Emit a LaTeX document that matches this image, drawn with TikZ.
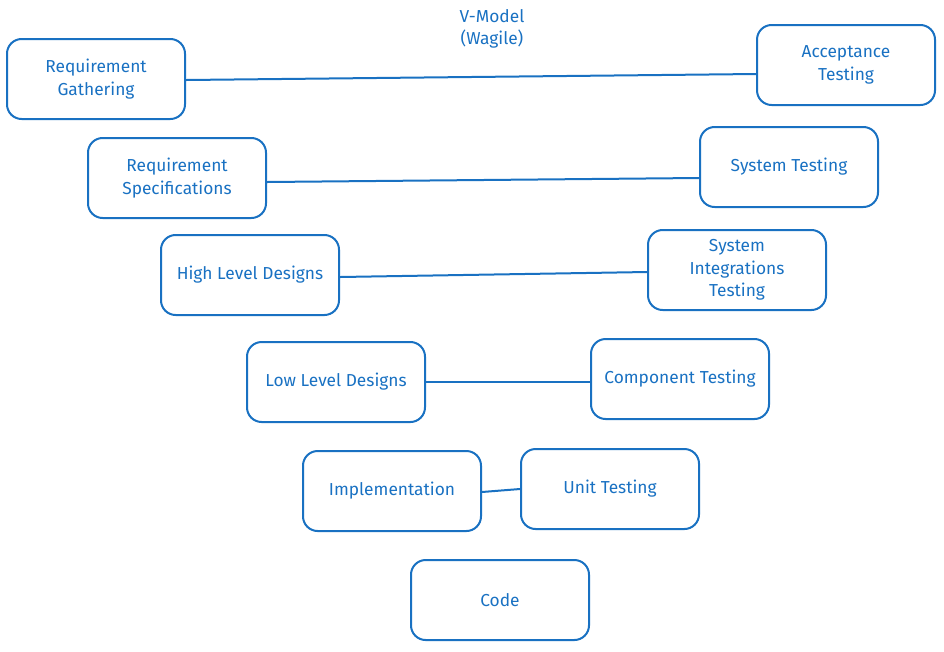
\documentclass[tikz,border=0pt]{standalone}
\usepackage{fontspec}
\setmainfont{Fira Sans}
\definecolor{exblue}{HTML}{1971C2}
\begin{document}
\begin{tikzpicture}[x=0.75pt,y=-0.75pt,
  box/.style={draw=exblue, line width=1.5pt, rounded corners=11pt, minimum width=133.5pt, minimum height=60pt, align=center, text=exblue, font=\fontsize{13}{16.8}\selectfont, inner sep=2pt},
  link/.style={draw=exblue, line width=1.5pt},
  ttl/.style={text=exblue, align=center, font=\fontsize{13}{16}\selectfont}]
\useasboundingbox (0,0) rectangle (944,651);
\node[ttl] (title) at (492,29) {V-Model\\(Wagile)};
\node[box] (rg) at (96,79) {Requirement\\Gathering};
\node[box] (at) at (846,65) {Acceptance\\Testing};
\node[box] (rs) at (177,178) {Requirement\\Specifications};
\node[box] (st) at (789,167) {System Testing};
\node[box] (hld) at (250,275) {High Level Designs};
\node[box] (sit) at (737,270) {System\\Integrations\\Testing};
\node[box] (lld) at (336,382) {Low Level Designs};
\node[box] (ct) at (680,379) {Component Testing};
\node[box] (impl) at (392,491) {Implementation};
\node[box] (ut) at (610,489) {Unit Testing};
\node[box] (code) at (500,600) {Code};
\draw[link] ([yshift=-0.75pt]rg.east) -- ([yshift=-6.75pt]at.west);
\draw[link] ([yshift=-3pt]rs.east) -- ([yshift=-8.25pt]st.west);
\draw[link] ([yshift=-1.5pt]hld.east) -- ([yshift=-1.5pt]sit.west);
\draw[link] (lld.east) -- ([yshift=-2.25pt]ct.west);
\draw[link] ([yshift=-0.75pt]impl.east) -- (ut.west);
\end{tikzpicture}
\end{document}
